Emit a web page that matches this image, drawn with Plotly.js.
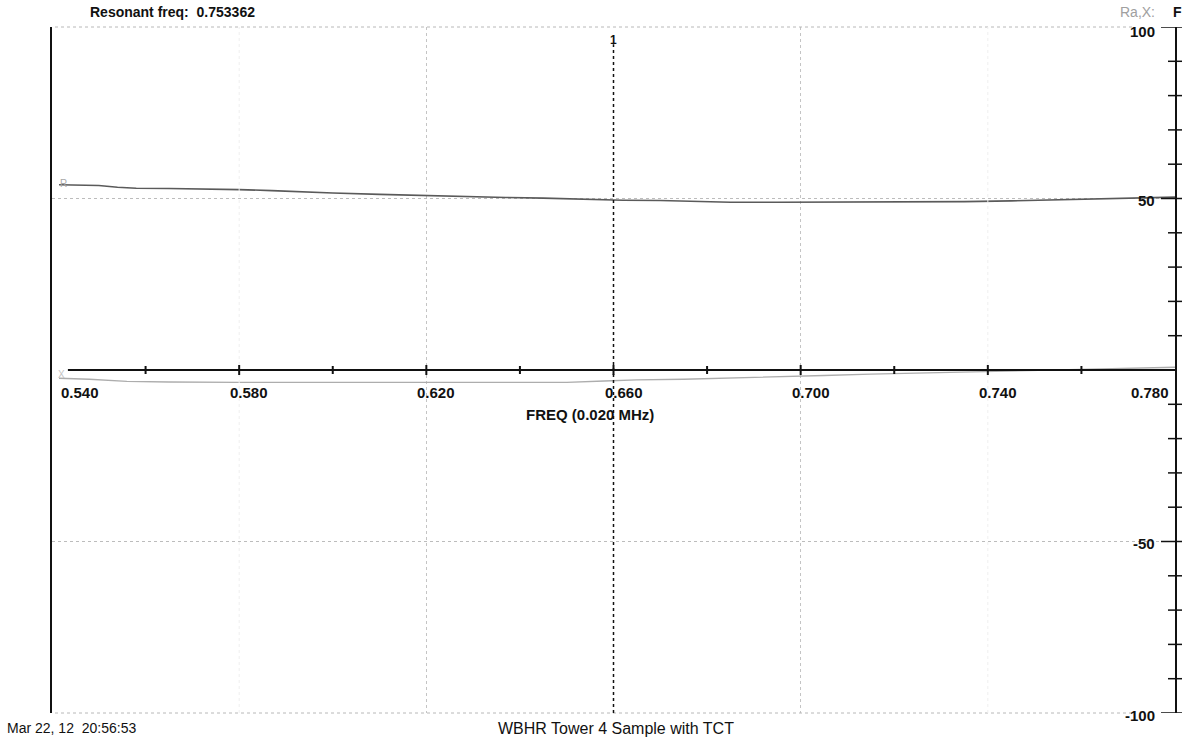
<!DOCTYPE html>
<html>
<head>
<meta charset="utf-8">
<script src="https://cdn.plot.ly/plotly-3.0.1.min.js"></script>
<style>
  html, body { margin: 0; padding: 0; background: #ffffff; }
  #chart { width: 1194px; height: 740px; }
</style>
</head>
<body>
<div id="chart"></div>
<script>
// Sweep of resistance (R) and reactance (X), ohms, against frequency in MHz
const freqR = [0.5415, 0.545, 0.550, 0.554, 0.558, 0.565, 0.572, 0.580, 0.587, 0.593,
               0.600, 0.610, 0.620, 0.630, 0.637, 0.645, 0.650, 0.657, 0.662, 0.670,
               0.677, 0.685, 0.695, 0.705, 0.715, 0.725, 0.735, 0.745, 0.755, 0.765,
               0.772, 0.780];
const resistance = [54.0, 53.9, 53.8, 53.3, 53.0, 52.9, 52.8, 52.6, 52.3, 51.9,
                    51.6, 51.2, 50.8, 50.5, 50.3, 50.1, 49.9, 49.7, 49.5, 49.4,
                    49.2, 48.9, 48.9, 48.9, 48.9, 49.0, 49.1, 49.3, 49.6, 49.9,
                    50.2, 50.4];

const freqX = [0.5415, 0.548, 0.556, 0.565, 0.580, 0.600, 0.620, 0.640, 0.650, 0.658,
               0.665, 0.675, 0.685, 0.695, 0.705, 0.715, 0.725, 0.735, 0.745, 0.753,
               0.760, 0.770, 0.780];
const reactance = [-2.4, -2.7, -3.3, -3.5, -3.6, -3.6, -3.8, -3.8, -3.6, -3.2,
                   -2.9, -2.7, -2.4, -2.0, -1.6, -1.2, -0.9, -0.6, -0.3, 0.0,
                   0.3, 0.6, 0.8];

// Axis labelling
const xLabelValues = [0.54, 0.58, 0.62, 0.66, 0.70, 0.74, 0.78];
const xLabelText = ['0.540', '0.580', '0.620', '0.660', '0.700', '0.740', '0.780'];
const xTickValues = [0.56, 0.58, 0.60, 0.62, 0.64, 0.66, 0.68, 0.70, 0.72, 0.74, 0.76];
const xGridValues = [0.62, 0.70];
const xFaintGridValues = [0.58, 0.74];
const yLabelValues = [100, 50, -50, -100];
const yLabelText = ['100', '50', '-50', '-100'];
const yTickValues = [100, 90, 80, 70, 60, 50, 40, 30, 20, 10, -10, -20, -30, -40, -50, -60, -70, -80, -90, -100];
const yGridValues = [50, -50];

const cursorFreq = 0.66;
const cursorLabel = '1';
const resonantFreq = '0.753362';
const stamp = 'Mar 22, 12\u00a0\u00a020:56:53';
const caption = 'WBHR Tower 4 Sample with TCT';

// Page geometry (pixels) used for paper-anchored items
const W = 1194, H = 740;
const M = { l: 52, r: 19, t: 27, b: 27 };
const plotW = W - M.l - M.r, plotH = H - M.t - M.b;
const px = x => (x - M.l) / plotW;
const py = y => (H - M.b - y) / plotH;

const FONT = '"Liberation Sans", Arial, sans-serif';
const INK = '#111111';

const traces = [
  {
    x: freqR, y: resistance, type: 'scatter', mode: 'lines',
    line: { color: '#5a5a5a', width: 1.6 }, hoverinfo: 'skip'
  },
  {
    x: freqX, y: reactance, type: 'scatter', mode: 'lines',
    line: { color: '#adadad', width: 1.3 }, hoverinfo: 'skip'
  }
];

const shapes = [];
// dotted frame lines along the top and bottom of the plot
[1, 0].forEach(yy => shapes.push({
  type: 'line', xref: 'paper', yref: 'paper', x0: px(55), x1: px(1135), y0: yy, y1: yy,
  line: { color: '#b8b8b8', width: 1, dash: 'dot' }
}));
// very faint intermediate frequency grid
xFaintGridValues.forEach(v => shapes.push({
  type: 'line', xref: 'x', yref: 'paper', x0: v, x1: v, y0: 0, y1: 1,
  line: { color: '#efefef', width: 1, dash: 'dot' }
}));
// horizontal axis line through zero
shapes.push({ type: 'line', xref: 'x', yref: 'y', x0: 0.5434, x1: 0.78, y0: 0, y1: 0,
              line: { color: INK, width: 2 } });
// tick marks crossing the zero line
xTickValues.forEach(v => {
  const major = Math.round(v * 1000) % 40 === 20;
  shapes.push({
    type: 'line', xref: 'x', yref: 'y', x0: v, x1: v,
    ysizemode: 'pixel', yanchor: 0, y0: major ? -5 : -4, y1: major ? 5 : 4,
    line: { color: INK, width: 2 }
  });
});
// tick marks crossing the right-hand axis
yTickValues.forEach(v => {
  const major = Math.abs(v) === 50 || Math.abs(v) === 100;
  shapes.push({
    type: 'line', xref: 'paper', yref: 'y', y0: v, y1: v,
    x0: 1 - (major ? 14 : 7) / plotW, x1: 1 + 7 / plotW,
    line: { color: INK, width: 1.5 }
  });
});
// cursor marker
shapes.push({ type: 'line', xref: 'x', yref: 'y', x0: cursorFreq, x1: cursorFreq, y0: -100, y1: 95,
              line: { color: INK, width: 1.5, dash: 'dot' } });

const bold = (size, color) => ({ family: FONT, size: size, color: color || INK, weight: 'bold' });

const annotations = [];
xLabelValues.forEach((v, i) => {
  const first = i === 0, last = i === xLabelValues.length - 1;
  annotations.push({
    x: v, y: 0, xref: 'x', yref: 'y', text: xLabelText[i], showarrow: false,
    xanchor: first ? 'left' : (last ? 'right' : 'center'),
    xshift: first ? 7 : (last ? -4 : 10), yshift: -22,
    font: bold(15)
  });
});
yLabelValues.forEach((v, i) => annotations.push({
  x: 0.78, y: v, xref: 'x', yref: 'y', text: yLabelText[i], showarrow: false,
  xanchor: 'right', xshift: -18, yshift: v === 100 ? -4 : -2,
  font: bold(15)
}));
annotations.push(
  { x: 0.66, y: 0, xref: 'x', yref: 'y', text: 'FREQ (0.020 MHz)', showarrow: false,
    xanchor: 'center', xshift: -24, yshift: -44, font: bold(15) },
  { x: cursorFreq, y: 100, xref: 'x', yref: 'y', text: cursorLabel, showarrow: false,
    xanchor: 'center', yanchor: 'top', yshift: -4, font: bold(12) },
  { x: px(88), y: py(12), xref: 'paper', yref: 'paper', showarrow: false,
    xanchor: 'left', yanchor: 'middle',
    text: 'Resonant freq:\u00a0\u00a0' + resonantFreq, font: bold(14) },
  { x: px(1157), y: py(12), xref: 'paper', yref: 'paper', showarrow: false,
    xanchor: 'right', yanchor: 'middle', text: 'Ra,X:',
    font: { family: FONT, size: 14, color: '#a0a0a0' } },
  { x: px(1171), y: py(12), xref: 'paper', yref: 'paper', showarrow: false,
    xanchor: 'left', yanchor: 'middle', text: 'F', font: bold(14) },
  { x: px(58), y: py(184), xref: 'paper', yref: 'paper', showarrow: false,
    xanchor: 'left', yanchor: 'middle', text: 'R',
    font: { family: FONT, size: 10, color: '#a8a8a8' } },
  { x: px(56), y: py(374), xref: 'paper', yref: 'paper', showarrow: false,
    xanchor: 'left', yanchor: 'middle', text: 'X',
    font: { family: FONT, size: 10, color: '#c4c4c4' } },
  { x: px(5), y: py(728), xref: 'paper', yref: 'paper', showarrow: false,
    xanchor: 'left', yanchor: 'middle', text: stamp,
    font: { family: FONT, size: 14, color: INK } },
  { x: px(616), y: py(728), xref: 'paper', yref: 'paper', showarrow: false,
    xanchor: 'center', yanchor: 'middle', text: caption,
    font: { family: FONT, size: 16, color: INK } }
);

const layout = {
  width: W, height: H,
  margin: M,
  paper_bgcolor: '#ffffff', plot_bgcolor: '#ffffff',
  showlegend: false,
  xaxis: {
    range: [0.54, 0.78], fixedrange: true,
    tickmode: 'array', tickvals: xGridValues, showticklabels: false, ticks: '',
    showgrid: true, gridcolor: '#c4c4c4', gridwidth: 1, griddash: 'dot',
    zeroline: false, showline: false
  },
  yaxis: {
    range: [-100, 100], fixedrange: true,
    tickmode: 'array', tickvals: yGridValues, showticklabels: false, ticks: '',
    showgrid: true, gridcolor: '#bcbcbc', gridwidth: 1, griddash: 'dot',
    zeroline: false, showline: true, mirror: true, linecolor: INK, linewidth: 2
  },
  shapes: shapes,
  annotations: annotations
};

Plotly.newPlot('chart', traces, layout, { staticPlot: true, displayModeBar: false });
</script>
</body>
</html>
